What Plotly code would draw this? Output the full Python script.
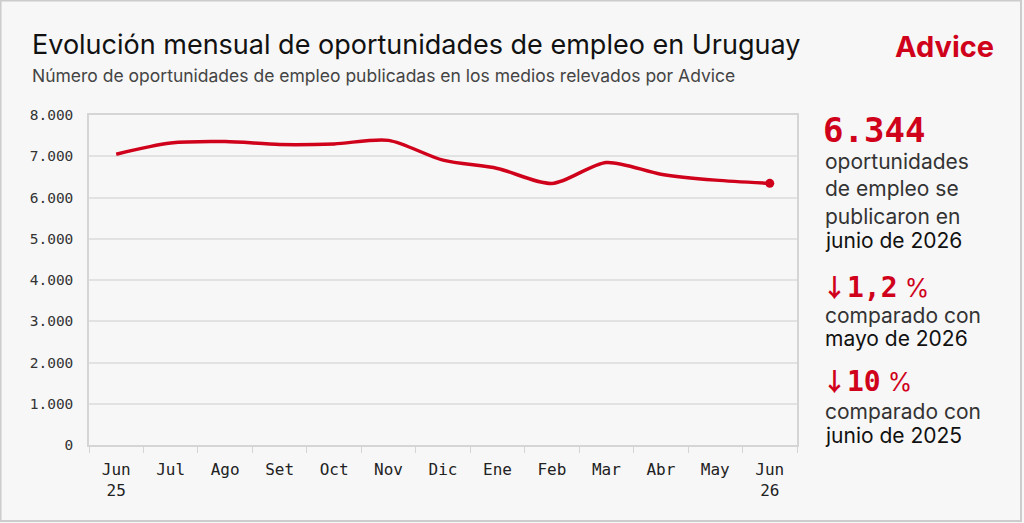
import plotly.graph_objects as go

# monthly job postings
meses = ["Jun<br>25", "Jul", "Ago", "Set", "Oct", "Nov", "Dic", "Ene", "Feb",
         "Mar", "Abr", "May", "Jun<br>26"]
oportunidades = [7050, 7320, 7355, 7285, 7300, 7385, 6905, 6705, 6340,
                 6850, 6565, 6421, 6344]
y_ticks = [0, 1000, 2000, 3000, 4000, 5000, 6000, 7000, 8000]

RED = "#d0021b"
BG = "#f7f7f7"
SANS = "Inter, Roboto, sans-serif"
MONO = "DejaVu Sans Mono, monospace"
ARROW = "<b><span style='font-family:Noto Sans CJK SC;font-size:25px'>↓</span></b>"
PCT = "<span style='font-family:Inter;font-size:25px'> %</span>"

W, H = 1024, 523
L, R, T, B = 89, 797, 115, 445


def px(x):
    return (x - L) / (R - L)


def py(y):
    return (B - y) / (B - T)


cats = [str(i) for i in range(len(meses))]

fig = go.Figure()
fig.add_trace(go.Scatter(
    x=cats, y=oportunidades, mode="lines",
    line=dict(color=RED, width=3.5, shape="spline", smoothing=0.8),
    hoverinfo="skip", showlegend=False,
))
fig.add_trace(go.Scatter(
    x=cats[-1:], y=oportunidades[-1:], mode="markers",
    marker=dict(color=RED, size=9), hoverinfo="skip", showlegend=False,
))

annotations = [
    dict(text="Evolución mensual de oportunidades de empleo en Uruguay",
         x=px(30), y=py(45), font=dict(size=27, color="#111", family=SANS)),
    dict(text="Número de oportunidades de empleo publicadas en los medios relevados por Advice",
         x=px(30), y=py(75), font=dict(size=17.5, color="#444", family=SANS)),
    dict(text="<b>Advice</b>", x=px(996), y=py(46), xanchor="right",
         font=dict(size=29, color=RED, family=SANS)),
    dict(text="<b>6.344</b>", x=px(821), y=py(130),
         font=dict(size=34, color=RED, family=MONO)),
    dict(text="oportunidades<br>de empleo se<br>publicaron en",
         x=px(823), y=py(189), font=dict(size=21, color="#333", family=SANS)),
    dict(text="junio de 2026", x=px(823), y=py(240),
         font=dict(size=21, color="#111", family=SANS)),
    dict(text=ARROW + "<b>1,2</b>" + PCT, x=px(820), y=py(286),
         font=dict(size=28, color=RED, family=MONO)),
    dict(text="comparado con", x=px(823), y=py(315),
         font=dict(size=21, color="#333", family=SANS)),
    dict(text="mayo de 2026", x=px(823), y=py(338),
         font=dict(size=21, color="#111", family=SANS)),
    dict(text=ARROW + "<b>10</b>" + PCT, x=px(820), y=py(380),
         font=dict(size=28, color=RED, family=MONO)),
    dict(text="comparado con", x=px(823), y=py(411),
         font=dict(size=21, color="#333", family=SANS)),
    dict(text="junio de 2025", x=px(823), y=py(435),
         font=dict(size=21, color="#111", family=SANS)),
]
for a in annotations:
    a.setdefault("xanchor", "left")
    a.update(xref="paper", yref="paper", yanchor="middle", align="left", showarrow=False)

fig.update_layout(
    width=W, height=H,
    margin=dict(l=L, r=W - R, t=T, b=H - B, pad=0),
    paper_bgcolor=BG, plot_bgcolor=BG,
    separators=",.",
    annotations=annotations,
    shapes=[dict(type="rect", xref="paper", yref="paper",
                 x0=px(0.5), x1=px(1021), y0=py(521), y1=py(0.5),
                 line=dict(color="#cccccc", width=2), layer="below")],
)
fig.update_xaxes(
    type="category", range=[-0.5, len(meses) - 0.5],
    tickmode="array", tickvals=cats, ticktext=meses,
    ticks="outside", tickson="boundaries", ticklen=6, tickcolor="#d5d5d5",
    showgrid=False, showline=True, mirror=True, linecolor="#d5d5d5", linewidth=1.5,
    ticklabelstandoff=9,
    tickfont=dict(family=MONO, size=16, color="#222"),
)
fig.update_yaxes(
    range=[0, 8000], tickvals=y_ticks, tickformat=",d",
    showgrid=True, gridcolor="#e2e2e2", gridwidth=1.5,
    showline=True, mirror=True, linecolor="#d5d5d5", linewidth=1.5,
    ticks="", ticklabelstandoff=11, zeroline=False,
    tickfont=dict(family=MONO, size=14.5, color="#333"),
)

fig.write_html("out.html", config={"displayModeBar": False},
               post_script="document.body.style.margin='0';")
